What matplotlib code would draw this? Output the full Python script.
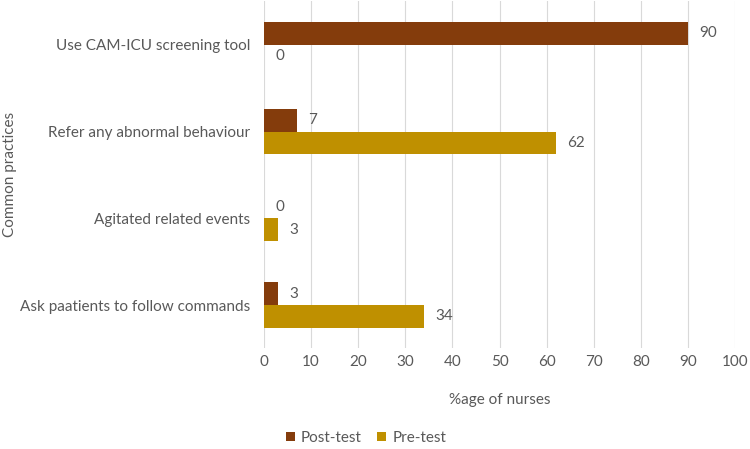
import matplotlib as mpl
import matplotlib.pyplot as plt
import numpy as np

mpl.use("Agg")
plt.rcParams["font.family"] = ["Lato", "DejaVu Sans"]

categories = ["Use CAM-ICU screening tool", "Refer any abnormal behaviour",
              "Agitated related events", "Ask paatients to follow commands"]
post_test = [90, 7, 0, 3]
pre_test = [0, 62, 3, 34]

grey = "#595959"
c_post = "#843C0C"
c_pre = "#BF9000"
fs = 11

fig = plt.figure(figsize=(7.5, 4.49), dpi=100)
ax = fig.add_axes([0.352, 0.224, 0.628, 0.773])

y = np.arange(len(categories))
h = 0.26
b1 = ax.barh(y - h / 2, post_test, height=h, color=c_post, label="Post-test")
b2 = ax.barh(y + h / 2, pre_test, height=h, color=c_pre, label="Pre-test")
for bars in (b1, b2):
    ax.bar_label(bars, padding=8, color=grey, fontsize=fs)

ax.set_ylim(len(categories) - 0.5, -0.5)
ax.set_xlim(0, 100)
ax.set_xticks(range(0, 101, 10))
ax.set_yticks(y)
ax.set_yticklabels(categories)
ax.tick_params(axis="both", length=0, colors=grey, labelsize=fs)
ax.tick_params(axis="y", pad=10)
ax.tick_params(axis="x", pad=5)
ax.grid(axis="x", color="#D9D9D9", linewidth=0.8)
ax.set_axisbelow(True)
for s in ax.spines.values():
    s.set_visible(False)

ax.set_xlabel("%age of nurses", color=grey, fontsize=fs, labelpad=17)
ax.set_ylabel("Common practices", color=grey, fontsize=fs)
ax.yaxis.set_label_coords(-0.524, 0.5)

fig.legend(loc="center", bbox_to_anchor=(0.488, 0.025), ncol=2, frameon=False,
           fontsize=fs, labelcolor=grey, handlelength=0.6, handleheight=0.6,
           handletextpad=0.4, columnspacing=1.0)

fig.savefig("out.png", dpi=100)
plt.close(fig)
